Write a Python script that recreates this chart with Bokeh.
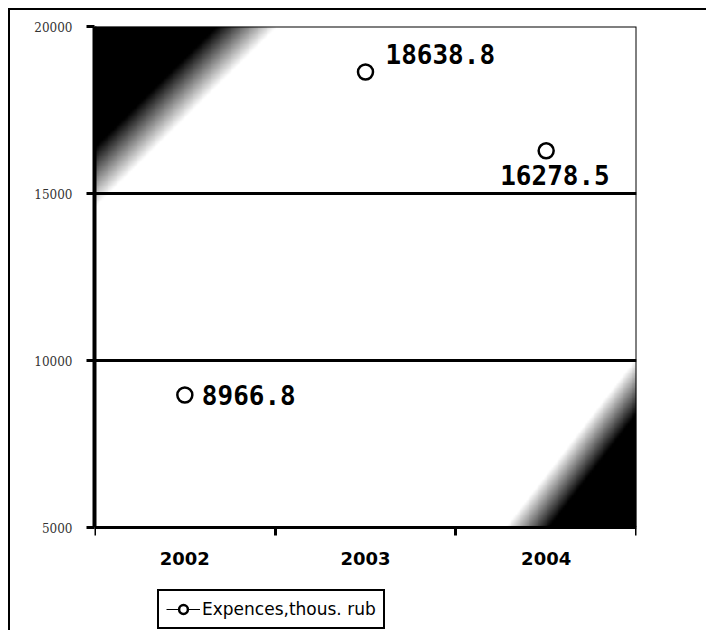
import numpy as np
from bokeh.plotting import figure
from bokeh.models import FixedTicker, Legend, LegendItem, ColumnDataSource, Range1d
from bokeh.embed import file_html
from bokeh.resources import INLINE
from bokeh.core.properties import value

# ---- data ----
years = ["2002", "2003", "2004"]
expenses = [8966.8, 18638.8, 16278.5]
value_labels = ["8966.8", "18638.8", "16278.5"]
y_ticks = [5000, 10000, 15000, 20000]
grid_values = [10000, 15000]
series_name = "Expences,thous. rub"

# label offsets (style)
label_dx = [17, 20, -46]
label_dy = [0, -18, 24]

xpos = [i + 0.5 for i in range(len(years))]
x_lo, x_hi = 0, len(years)
y_lo, y_hi = y_ticks[0], y_ticks[-1]

# plot area 501px tall for the value range; extra room below for labels + legend
plot_px, extra_px = 501, 103
y_ext = y_lo - (y_hi - y_lo) * extra_px / plot_px

p = figure(frame_width=542, frame_height=plot_px + extra_px,
           x_range=Range1d(x_lo, x_hi), y_range=Range1d(y_ext, y_hi),
           output_backend="svg", toolbar_location=None,
           min_border_left=84, min_border_top=16, min_border_right=70,
           min_border_bottom=0)
p.styles = {"border-top": "2px solid black", "border-left": "2px solid black",
            "margin-top": "8px", "margin-left": "8px"}
p.background_fill_color = "white"
p.border_fill_color = "white"
p.outline_line_color = None

# scanned gradient background (decoration)
nx, ny = 300, 300
fx = np.linspace(0, 1, nx)[None, :]
fy_top = 1 - np.linspace(0, 1, ny)[:, None]  # 0 at top
d1 = fx / 0.28 + fy_top / 0.30
a1 = np.clip((1 - d1) / 0.4 + 0.5, 0, 1)
d2 = (1 - fx) / 0.2 + (1 - fy_top) / 0.28
a2 = np.clip((1 - d2) / 0.4 + 0.5, 0, 1)
alpha = np.maximum(a1, a2)
img = np.zeros((ny, nx), dtype=np.uint32)
view = img.view(dtype=np.uint8).reshape((ny, nx, 4))
view[:, :, 3] = (alpha * 255).astype(np.uint8)
p.image_rgba(image=[img], x=x_lo, y=y_lo, dw=x_hi - x_lo, dh=y_hi - y_lo)

# top / right border of the plot area
p.line(x=[x_lo, x_hi, x_hi], y=[y_hi, y_hi, y_lo], line_color="black", line_width=2)

p.xgrid.grid_line_color = None
p.ygrid.ticker = FixedTicker(ticks=grid_values)
p.ygrid.grid_line_color = "black"
p.ygrid.grid_line_width = 3

# axes
p.xaxis.fixed_location = y_lo
p.xaxis.ticker = FixedTicker(ticks=xpos, minor_ticks=list(range(x_lo, x_hi + 1)))
p.xaxis.major_label_overrides = {xp: yr for xp, yr in zip(xpos, years)}
p.xaxis.major_tick_out = 0
p.xaxis.major_tick_in = 0
p.xaxis.minor_tick_out = 8
p.xaxis.minor_tick_in = 0
p.xaxis.minor_tick_line_width = 3
p.xaxis.minor_tick_line_color = "black"
p.xaxis.axis_line_width = 3
p.xaxis.axis_line_color = "black"
p.xaxis.major_label_text_font = "DejaVu Sans"
p.xaxis.major_label_text_font_style = "bold"
p.xaxis.major_label_text_font_size = "18px"
p.xaxis.major_label_text_color = "black"
p.xaxis.major_label_standoff = 16

p.yaxis.ticker = FixedTicker(ticks=y_ticks)
p.yaxis.bounds = (y_lo, y_hi)
p.yaxis.minor_tick_line_color = None
p.yaxis.major_tick_out = 8
p.yaxis.major_tick_in = 0
p.yaxis.major_tick_line_width = 3
p.yaxis.major_tick_line_color = "black"
p.yaxis.axis_line_width = 4
p.yaxis.axis_line_color = "black"
p.yaxis.major_label_text_font = "DejaVu Serif"
p.yaxis.major_label_text_font_size = "12px"
p.yaxis.major_label_text_color = "#333333"
p.yaxis.major_label_standoff = 14

src = ColumnDataSource(dict(x=xpos, y=expenses, lab=value_labels,
                            dx=label_dx, dy=label_dy))
circ = p.scatter("x", "y", source=src, marker="circle", size=15,
                 fill_color="white", line_color="black", line_width=2.5)
p.text("x", "y", text="lab", source=src, x_offset="dx", y_offset="dy",
       text_font=value("DejaVu Sans Mono"), text_font_style="bold",
       text_font_size="26px", text_baseline="middle", text_align="left",
       text_color="black")

# legend-only line
line_src = ColumnDataSource(dict(x=[np.nan], y=[np.nan]))
ln = p.line("x", "y", source=line_src, line_color="black", line_width=1)

legend = Legend(items=[LegendItem(label=series_name, renderers=[ln, circ])],
                location=(63, 1), orientation="horizontal")
legend.border_line_color = "black"
legend.border_line_alpha = 1.0
legend.border_line_width = 2.5
legend.background_fill_color = "white"
legend.label_text_font = "DejaVu Sans"
legend.label_text_font_size = "17px"
legend.label_text_color = "black"
legend.glyph_width = 34
legend.glyph_height = 22
legend.padding = 7
legend.margin = 0
legend.label_standoff = 2
p.add_layout(legend)

open("out.html", "w").write(file_html(p, INLINE))
